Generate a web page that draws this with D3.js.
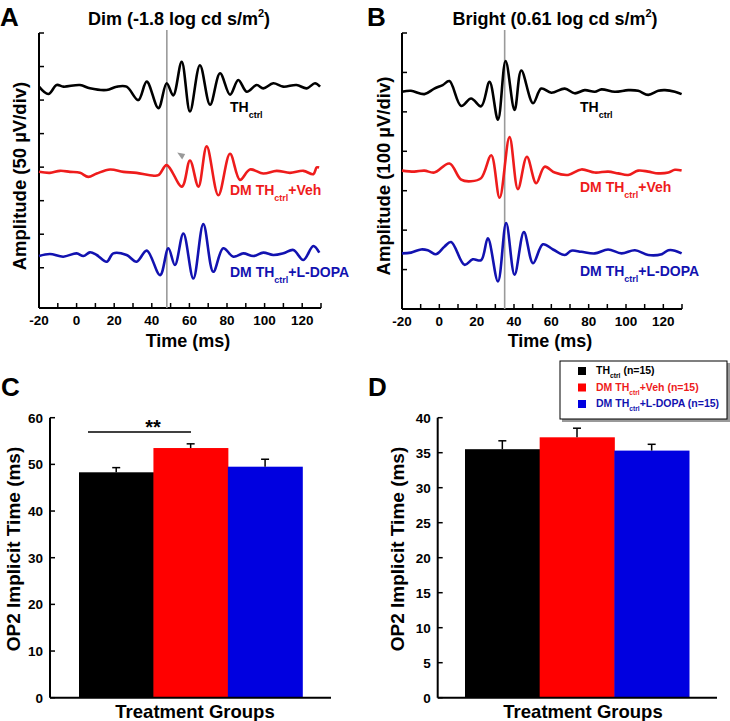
<!DOCTYPE html>
<html><head><meta charset="utf-8">
<script src="https://cdn.jsdelivr.net/npm/d3@7"></script>
<style>body{margin:0;background:#fff}text{font-family:"Liberation Sans",Arial,sans-serif;font-weight:bold}</style>
</head><body>
<svg id="c" width="730" height="721"></svg>
<script>
// ---- ERG traces (time ms, amplitude µV relative to trace baseline) ----
const blackA_t=[-20,-15,-10.6,-7,1.8,7.1,16,21.3,26.6,32.8,37.3,43.5,47.9,51.4,55.9,60.3,65.6,71,76.3,81.6,86,90.5,95.8,99.3,104.6,109.9,117,122.4,126.8,129.5];
const blackA_v=[0,-11,2.5,0,2.5,-2.5,-5,0,0,-20,7.5,-32,5,-13,37,-37,32,-27,20,-12,10,-7.5,2.5,-2.5,5,0,2.5,-2.5,5,0];
const redA_t=[-20,-14.2,-8.8,-3.5,1.8,6.2,10.7,17.8,24.9,31.9,39,43.5,47.9,56,60.3,64.8,69.2,75.4,81.6,86.9,92.2,99.3,106.4,113.5,120.6,125.9,127.7,129];
const redA_v=[0,-1.5,1.5,0,-1.5,-7.5,-2.5,3.5,0,-1.5,-5,-5,10,-22,17,-22,38,-35,27,-12,3.5,-2.5,1.5,-1.5,1.5,-3.5,6.5,6.5];
const blueA_t=[-20,-14.2,-7.1,0,3.6,7.1,10.7,16,19.5,26.6,31.9,37.3,44.4,48.8,52.3,56.8,62.1,67.4,72.7,78,83.4,88.7,94,99.3,104.6,110,115.3,120.6,125.9,129.1];
const blueA_v=[-1.5,1.5,-2.5,2.5,-1.5,4,0,-10,2.5,0,-10,6.5,-30,10,-15,32,-35,46,-25,10,-2.5,2.5,-1.5,3.5,0,2.5,7.5,-7.5,13.5,3.5];
const blackB_t=[-20,-15.2,-8,-2.7,1.8,5.4,11.7,17,22.4,26.9,31.4,35.5,40.3,43.9,50.2,54.6,60,67.2,72.5,77.9,83.3,86.9,94,101.2,106.5,111.9,117.3,120.9,126.2,129.8];
const blackB_v=[0,2.5,-6,8,17,27,-36,-17,-37,25,-71,78,-46,54,-29,8,-2.5,8,-4,4,0,6,0,4,2.5,-8,2.5,4,0,-6];
const redB_t=[-20,-13.4,-8,-2.7,5.4,11.7,17,22.4,27.8,32.3,37.6,42.1,46.9,51.9,56.4,61.8,69,76.1,83.3,90.4,95.8,101.2,106.5,111.9,117.3,122.7,126.2,129.8];
const redB_v=[0,-2.5,0,-5,18,-23,-27,-19,39,-69,85,-47,35,-32,10,-5,-11,3,-5,-2.5,-7,-11,0,-2.5,-7,-5,2,0];
const blueB_t=[-20,-15.2,-9.8,-6.2,-1.8,2.7,6.3,13.5,17.9,22.4,26,31.4,35.8,40.3,45.3,50.2,55.5,60.9,67.2,70.7,76.1,83.3,90.4,97.6,104.8,111.9,119.1,122.7,126.2,129.8];
const blueB_v=[0,2,10,8,-2,17,29,-29,-15,-17,38,-71,77,-54,54,-25,23,10,-4,7,4,0,10,0,8,-4,-2,8,7,0];
const offsetsA=[320,193,69];      // µV baselines of stacked traces (50 µV/div)
const offsetsB=[551,351,141];     // µV baselines (100 µV/div)
const markerA=48, markerB=35;     // ms, OP2 reference lines
const timeTicks=[-20,-10,0,10,20,30,40,50,60,70,80,90,100,110,120,130];
const timeLabels=[-20,0,20,40,60,80,100,120];

// ---- OP2 implicit time bars ----
const groups=["TH_ctrl","DM TH_ctrl+Veh","DM TH_ctrl+L-DOPA"];
const dimMeans=[48.3,53.5,49.5], dimErr=[1.0,0.9,1.6];
const brightMeans=[35.5,37.2,35.3], brightErr=[1.2,1.3,0.9];
const ticksC=[0,10,20,30,40,50,60], ticksD=[0,5,10,15,20,25,30,35,40];

const colors=["#000000","#ee1c1c","#1212b0"];
const barColors=["#000000","#ff0000","#0000e0"];

const svg=d3.select("#c");

function subText(g,x,y,parts,size,color,anchor){
  const t=g.append("text").attr("x",x).attr("y",y).attr("fill",color).attr("font-size",size);
  if(anchor) t.attr("text-anchor",anchor);
  parts.forEach(p=>{
    const s=t.append("tspan").text(p.t);
    if(p.sub){s.attr("font-size",size*0.64).attr("dy",size*0.4);}
    else if(p.back){s.attr("dy",-size*0.4);}
  });
  return t;
}

function ergPanel(cfg){
  const g=svg.append("g");
  const x=d3.scaleLinear().domain([-20,130]).range(cfg.xr);
  const y=d3.scaleLinear().domain(cfg.yd).range([cfg.yb,33]);
  // y axis
  g.append("line").attr("x1",cfg.xr[0]).attr("x2",cfg.xr[0]).attr("y1",33).attr("y2",cfg.yb).attr("stroke","#000").attr("stroke-width",2);
  cfg.yt.forEach(v=>g.append("line").attr("x1",cfg.xr[0]).attr("x2",cfg.xr[0]+5).attr("y1",y(v)).attr("y2",y(v)).attr("stroke","#000").attr("stroke-width",1.5));
  // x axis
  g.append("line").attr("x1",cfg.xr[0]).attr("x2",cfg.xr[1]).attr("y1",cfg.yb).attr("y2",cfg.yb).attr("stroke","#000").attr("stroke-width",2);
  timeTicks.forEach(v=>g.append("line").attr("x1",x(v)).attr("x2",x(v)).attr("y1",cfg.yb).attr("y2",cfg.yb-5).attr("stroke","#000").attr("stroke-width",1.5));
  timeLabels.forEach(v=>g.append("text").attr("x",x(v)).attr("y",cfg.yb+17).attr("text-anchor","middle").attr("font-size",13.5).text(v));
  // marker line
  g.append("line").attr("x1",x(cfg.marker)).attr("x2",x(cfg.marker)).attr("y1",30).attr("y2",cfg.yb).attr("stroke","#9a9a9a").attr("stroke-width",1.6);
  // traces
  const line=d3.line().curve(d3.curveCatmullRom.alpha(0.5));
  cfg.traces.forEach((tr,i)=>{
    const pts=tr.t.map((t,j)=>[x(t),y(cfg.off[i]+tr.v[j])]);
    g.append("path").attr("d",line(pts)).attr("fill","none").attr("stroke",colors[i]).attr("stroke-width",2.6).attr("stroke-linejoin","round");
  });
  // labels
  subText(g,cfg.lx,cfg.ly[0],[{t:"TH"},{t:"ctrl",sub:true}],14,colors[0]);
  subText(g,cfg.lx,cfg.ly[1],[{t:"DM TH"},{t:"ctrl",sub:true},{t:"+Veh",back:true}],14,colors[1]);
  subText(g,cfg.lx,cfg.ly[2],[{t:"DM TH"},{t:"ctrl",sub:true},{t:"+L-DOPA",back:true}],14,colors[2]);
  // titles
  g.append("text").attr("x",cfg.px).attr("y",26).attr("font-size",26).text(cfg.letter);
  const tt=g.append("text").attr("x",cfg.tx).attr("y",25).attr("text-anchor","middle").attr("font-size",18);
  tt.append("tspan").text(cfg.title);
  tt.append("tspan").attr("font-size",11).attr("dy",-8).text("2");
  tt.append("tspan").attr("dy",8).text(")");
  g.append("text").attr("x",(cfg.xr[0]+cfg.xr[1])/2+8).attr("y",347).attr("text-anchor","middle").attr("font-size",18).text("Time (ms)");
  g.append("text").attr("transform",`translate(${cfg.ax},176) rotate(-90)`).attr("text-anchor","middle").attr("font-size",18.5).text(cfg.ylab);
  return {g,x,y};
}

const A=ergPanel({xr:[39,321],yb:308,yd:[-10,400],yt:[50,100,150,200,250,300,350,400],marker:markerA,
  traces:[{t:blackA_t,v:blackA_v},{t:redA_t,v:redA_v},{t:blueA_t,v:blueA_v}],off:offsetsA,
  lx:230,ly:[112,195,277],px:0,letter:"A",tx:179,title:"Dim (-1.8 log cd s/m",ax:26,ylab:"Amplitude (50 µV/div)"});
const B=ergPanel({xr:[402,682],yb:309,yd:[0,700],yt:[100,200,300,400,500,600,700],marker:markerB,
  traces:[{t:blackB_t,v:blackB_v},{t:redB_t,v:redB_v},{t:blueB_t,v:blueB_v}],off:offsetsB,
  lx:580,ly:[112,192,276],px:367,letter:"B",tx:555,title:"Bright (0.61 log cd s/m",ax:390,ylab:"Amplitude (100 µV/div)"});
// arrowhead in A
A.g.append("path").attr("d",`M${A.x(53.5)},${A.y(offsetsA[1]+29)} l8,1.5 l-3,5.5 Z`).attr("fill","#9a9a9a");

function barPanel(cfg){
  const g=svg.append("g");
  const x=d3.scaleBand().domain(groups).range(cfg.br).padding(0);
  const y=d3.scaleLinear().domain(cfg.yd).range([697.7,417.7]);
  g.selectAll("rect").data(cfg.means).enter().append("rect")
    .attr("x",(d,i)=>x(groups[i])).attr("width",x.bandwidth()+0.5)
    .attr("y",d=>y(d)).attr("height",d=>y(0)-y(d)).attr("fill",(d,i)=>barColors[i]);
  cfg.means.forEach((m,i)=>{
    const cx=x(groups[i])+x.bandwidth()/2;
    g.append("line").attr("x1",cx).attr("x2",cx).attr("y1",y(m)).attr("y2",y(m+cfg.err[i])).attr("stroke","#000").attr("stroke-width",1.5);
    g.append("line").attr("x1",cx-4).attr("x2",cx+4).attr("y1",y(m+cfg.err[i])).attr("y2",y(m+cfg.err[i])).attr("stroke","#000").attr("stroke-width",1.5);
  });
  g.append("line").attr("x1",cfg.ax[0]).attr("x2",cfg.ax[0]).attr("y1",y(cfg.yd[1])).attr("y2",y(0)).attr("stroke","#000").attr("stroke-width",2);
  g.append("line").attr("x1",cfg.ax[0]).attr("x2",cfg.ax[1]).attr("y1",y(0)).attr("y2",y(0)).attr("stroke","#000").attr("stroke-width",2);
  cfg.ticks.forEach(v=>{
    g.append("line").attr("x1",cfg.ax[0]).attr("x2",cfg.ax[0]+5).attr("y1",y(v)).attr("y2",y(v)).attr("stroke","#000").attr("stroke-width",1.5);
    g.append("text").attr("x",cfg.ax[0]-7).attr("y",y(v)+5).attr("text-anchor","end").attr("font-size",13.5).text(v);
  });
  g.append("text").attr("x",cfg.gx).attr("y",718).attr("text-anchor","middle").attr("font-size",18.5).text("Treatment Groups");
  g.append("text").attr("transform",`translate(${cfg.lx},549) rotate(-90)`).attr("text-anchor","middle").attr("font-size",19).text("OP2 Implicit Time (ms)");
  g.append("text").attr("x",cfg.px).attr("y",396).attr("font-size",26).text(cfg.letter);
  return {g,x,y};
}
const C=barPanel({br:[79,302.3],ax:[50,331],yd:[0,60],ticks:ticksC,means:dimMeans,err:dimErr,gx:195,lx:20,px:1,letter:"C"});
const D=barPanel({br:[465,689],ax:[437.7,717],yd:[0,40],ticks:ticksD,means:brightMeans,err:brightErr,gx:583,lx:404,px:368,letter:"D"});
// significance
C.g.append("line").attr("x1",88).attr("x2",191).attr("y1",432).attr("y2",432).attr("stroke","#000").attr("stroke-width",1.5);
C.g.append("text").attr("x",153).attr("y",434).attr("text-anchor","middle").attr("font-size",20).text("**");

// legend
const lg=svg.append("g");
lg.append("rect").attr("x",562).attr("y",363).attr("width",168).attr("height",59).attr("fill","#999");
lg.append("rect").attr("x",560).attr("y",361).attr("width",167).attr("height",58).attr("fill","#fff").attr("stroke","#000").attr("stroke-width",1);
const legRows=[[{t:"TH"},{t:"ctrl",sub:true},{t:" (n=15)",back:true}],
  [{t:"DM TH"},{t:"ctrl",sub:true},{t:"+Veh (n=15)",back:true}],
  [{t:"DM TH"},{t:"ctrl",sub:true},{t:"+L-DOPA (n=15)",back:true}]];
legRows.forEach((r,i)=>{
  const yy=371+i*16.5;
  lg.append("rect").attr("x",578).attr("y",yy-4).attr("width",8).attr("height",8).attr("fill",barColors[i]);
  subText(lg,596,yy+3,r,10.5,["#000","#ee1c1c","#1212b0"][i]);
});
</script></body></html>
